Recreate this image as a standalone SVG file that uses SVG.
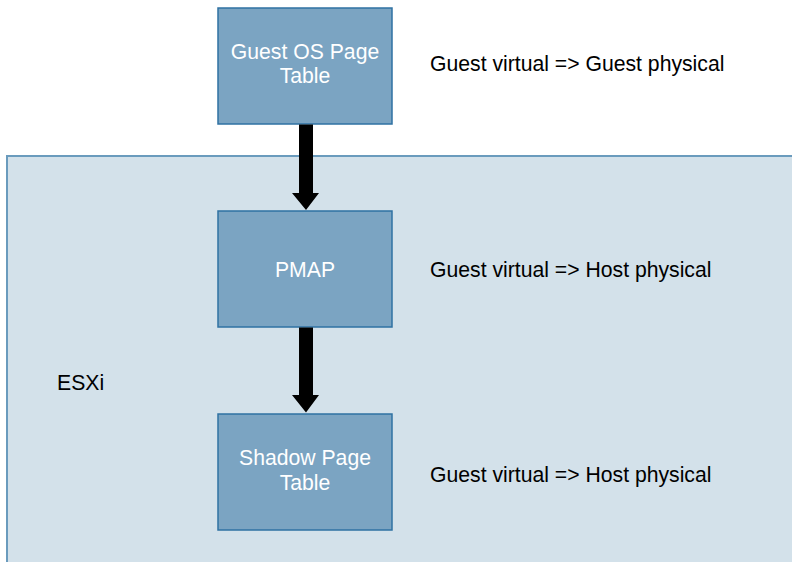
<svg xmlns="http://www.w3.org/2000/svg" width="792" height="562" viewBox="0 0 792 562">
<style>
.box{fill:#7ba4c2;stroke:#2f72a3;stroke-width:1.5}
.cont{fill:#d3e1ea;stroke:#6a9bbd;stroke-width:2}
.nt{font-family:"Liberation Sans",Arial,sans-serif;font-size:21.2px;fill:#ffffff;text-anchor:middle}
.lt{font-family:"Liberation Sans",Arial,sans-serif;font-size:21.2px;fill:#000000}
.arr{fill:#000000}
</style>
<rect width="792" height="562" fill="#ffffff"/>
<g id="esxi">
<rect class="cont" x="7" y="156" width="800" height="420"/>
<text class="lt" x="57" y="390">ESXi</text>
</g>
<g id="guest-os-page-table">
<rect class="box" x="218" y="8" width="174" height="116"/>
<text class="nt" x="305" y="59">Guest OS Page</text>
<text class="nt" x="305" y="83">Table</text>
</g>
<g id="pmap">
<rect class="box" x="218" y="211" width="174" height="116"/>
<text class="nt" x="305" y="277">PMAP</text>
</g>
<g id="shadow-page-table">
<rect class="box" x="218" y="414" width="174" height="116"/>
<text class="nt" x="305" y="465">Shadow Page</text>
<text class="nt" x="305" y="490">Table</text>
</g>
<g id="labels">
<text class="lt" x="430" y="71">Guest virtual =&gt; Guest physical</text>
<text class="lt" x="430" y="277">Guest virtual =&gt; Host physical</text>
<text class="lt" x="430" y="482">Guest virtual =&gt; Host physical</text>
</g>
<g id="connectors">
<polygon class="arr" points="299,124.5 313,124.5 313,193 319,193 306,210 292,193 299,193"/>
<polygon class="arr" points="299,327.5 313,327.5 313,395 319,395 306,412.5 292,395 299,395"/>
</g>
</svg>
